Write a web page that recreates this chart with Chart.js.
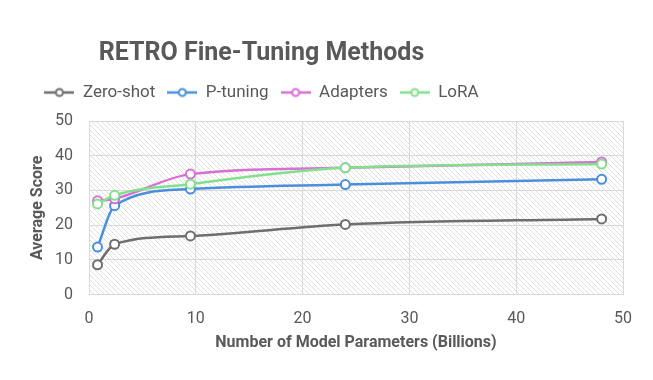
<!DOCTYPE html>
<html>
<head>
<meta charset="utf-8">
<script src="https://cdn.jsdelivr.net/npm/chart.js@4.4.1/dist/chart.umd.min.js"></script>
<style>
  html, body { margin: 0; padding: 0; background: #fff; }
  #c { display: block; }
</style>
</head>
<body>
<canvas id="c" width="653" height="380"></canvas>
<script>
// data
const sizes = [0.8, 2.4, 9.5, 24, 48];
const zeroShot = [8.6, 14.5, 16.9, 20.2, 21.8];
const pTuning = [13.7, 25.6, 30.4, 31.7, 33.2];
const adapters = [27.0, 27.6, 34.7, 36.5, 38.2];
const lora = [26.1, 28.6, 31.8, 36.5, 37.6];
const seriesNames = ['Zero-shot', 'P-tuning', 'Adapters', 'LoRA'];
const seriesColors = ['#6e6e6e', '#4a8fdb', '#d86fd4', '#82e08c'];
const xTicks = [0, 10, 20, 30, 40, 50];
const yTicks = [0, 10, 20, 30, 40, 50];

const FONT = "'Roboto', 'Liberation Sans', sans-serif";
const TEXT = '#595959';
const GRID = '#d9d9d9';
const HEAD_SHIFT = -64; // title + legend sit left of centre in the reference
const LEGEND_GAP = 10;  // extra room under the legend

/* hatch pattern for plot area */
function makeHatch() {
  const t = document.createElement('canvas');
  t.width = 5; t.height = 5;
  const g = t.getContext('2d');
  g.strokeStyle = '#e0e0e0';
  g.lineWidth = 1;
  g.beginPath();
  g.moveTo(-1, -1); g.lineTo(6, 6);
  g.moveTo(-1, 4); g.lineTo(1, 6);
  g.moveTo(4, -1); g.lineTo(6, 1);
  g.stroke();
  return t;
}

/* legend marker: short line with hollow circle */
function makeMarker(color) {
  const m = document.createElement('canvas');
  m.width = 30; m.height = 12;
  const g = m.getContext('2d');
  g.strokeStyle = color;
  g.lineWidth = 2.5;
  g.beginPath(); g.moveTo(0, 6); g.lineTo(30, 6); g.stroke();
  g.fillStyle = '#fff';
  g.lineWidth = 2;
  g.beginPath(); g.arc(15, 6, 3.5, 0, Math.PI * 2); g.fill(); g.stroke();
  return m;
}

const hatchBg = {
  id: 'hatchBg',
  beforeDraw(chart) {
    const { ctx, chartArea: a } = chart;
    ctx.save();
    ctx.fillStyle = ctx.createPattern(makeHatch(), 'repeat');
    ctx.fillRect(a.left, a.top, a.right - a.left, a.bottom - a.top);
    ctx.restore();
  }
};

const headLayout = {
  id: 'headLayout',
  beforeLayout(chart) {
    const lg = chart.legend;
    if (lg && !lg._padded) {
      const fit = lg.fit.bind(lg);
      lg.fit = function () { fit(); this.height += LEGEND_GAP; };
      lg._padded = true;
    }
  },
  afterLayout(chart) {
    [chart.titleBlock, chart.legend].forEach(b => {
      if (!b) return;
      b.left += HEAD_SHIFT;
      b.right += HEAD_SHIFT;
    });
  }
};

const allSeries = [zeroShot, pTuning, adapters, lora];
const markers = seriesColors.map(makeMarker);
const datasets = allSeries.map((vals, i) => ({
  label: seriesNames[i],
  data: vals.map((v, j) => ({ x: sizes[j], y: v })),
  borderColor: seriesColors[i],
  backgroundColor: '#ffffff',
  pointBackgroundColor: '#ffffff',
  pointBorderColor: seriesColors[i],
  pointBorderWidth: 2,
  pointRadius: 4.5,
  borderWidth: 2.5,
  cubicInterpolationMode: 'monotone',
  order: 4 - i
}));

new Chart(document.getElementById('c'), {
  type: 'line',
  data: { datasets },
  options: {
    responsive: false,
    animation: false,
    layout: { padding: { left: 28, right: 30, top: 10, bottom: 27 } },
    plugins: {
      title: {
        display: true,
        text: 'RETRO Fine-Tuning Methods',
        color: TEXT,
        font: { family: FONT, size: 25, weight: 'bold' },
        padding: { top: 29, bottom: 3 }
      },
      legend: {
        labels: {
          color: TEXT,
          font: { family: FONT, size: 17 },
          usePointStyle: true,
          pointStyleWidth: 30,
          padding: 12,
          generateLabels(chart) {
            return chart.data.datasets.map((d, i) => ({
              text: d.label,
              fontColor: TEXT,
              pointStyle: markers[i],
              strokeStyle: d.borderColor,
              fillStyle: '#fff',
              lineWidth: 0,
              hidden: false,
              datasetIndex: i
            }));
          }
        }
      },
      tooltip: { enabled: false }
    },
    scales: {
      x: {
        type: 'linear',
        min: 0, max: 50,
        afterBuildTicks(s) { s.ticks = xTicks.map(v => ({ value: v })); },
        grid: { color: GRID, lineWidth: 1, drawTicks: false },
        border: { color: GRID },
        ticks: { color: TEXT, font: { family: FONT, size: 16 }, padding: 15 },
        title: {
          display: true,
          text: 'Number of Model Parameters (Billions)',
          color: TEXT,
          font: { family: FONT, size: 16, weight: 'bold' },
          padding: { top: -10, bottom: 0 }
        }
      },
      y: {
        min: 0, max: 50,
        afterBuildTicks(s) { s.ticks = yTicks.map(v => ({ value: v })); },
        afterFit(s) { s.width = 61; },
        grid: { color: GRID, lineWidth: 1, drawTicks: false },
        border: { color: GRID },
        ticks: { color: TEXT, font: { family: FONT, size: 16 }, padding: 16 },
        title: {
          display: true,
          text: 'Average Score',
          color: TEXT,
          font: { family: FONT, size: 16, weight: 'bold' },
          padding: { top: 0, bottom: 0 }
        }
      }
    }
  },
  plugins: [hatchBg, headLayout]
});
</script>
</body>
</html>
